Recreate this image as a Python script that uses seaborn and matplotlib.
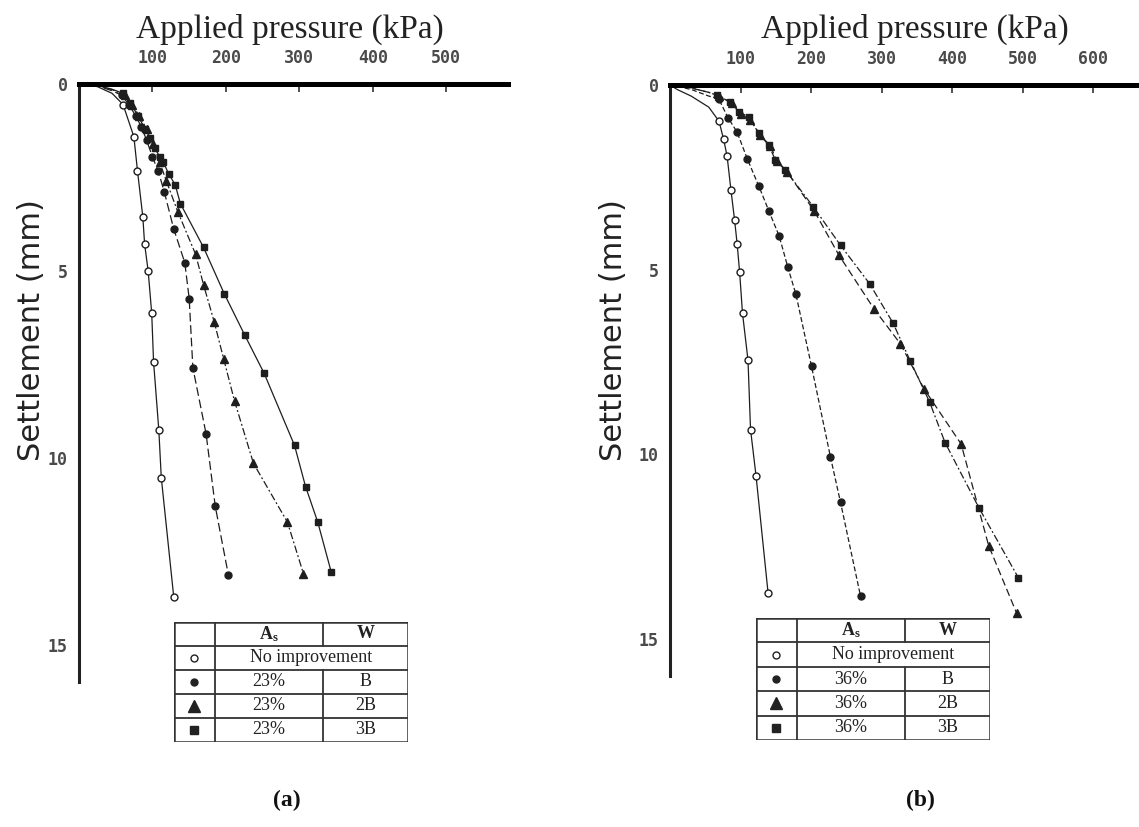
import numpy as np
import pandas as pd
import seaborn as sns
import matplotlib.pyplot as plt

sns.set_theme(style="white")
plt.rcParams["font.family"] = "DejaVu Sans"

# (a) A_s = 23 %  -- first 3 points are the lead-in curve from the origin (no markers)
a_none_p = [0, 25, 45, 60, 74.7, 79.6, 86.9, 89.3, 94.2, 99, 101.5, 108.7, 112, 129]
a_none_s = [0, 0.07, 0.25, 0.55, 1.41, 2.32, 3.56, 4.28, 5.01, 6.14, 7.43, 9.27, 10.53, 13.73]
a_b_p = [0, 25, 45, 58, 68, 77, 85, 92, 100, 108, 116, 129, 144, 150, 155, 173, 185.5, 203.5]
a_b_s = [0, 0.05, 0.18, 0.3, 0.55, 0.85, 1.15, 1.5, 1.95, 2.34, 2.88, 3.88, 4.78, 5.74, 7.59, 9.36, 11.3, 13.15]
a_2b_p = [0, 25, 45, 62, 72, 82, 92, 101, 110, 119, 134.5, 158.8, 169.5, 184, 197, 211.7, 237.5, 283.7, 305.5]
a_2b_s = [0, 0.04, 0.15, 0.3, 0.55, 0.85, 1.2, 1.6, 2.1, 2.6, 3.42, 4.56, 5.37, 6.36, 7.36, 8.48, 10.15, 11.72, 13.1]
a_3b_p = [0, 25, 45, 60, 70, 80, 90, 97, 103, 110, 115, 122, 131, 138, 169.5, 197.7, 225.4, 252, 293.4, 308.4, 325, 343.4]
a_3b_s = [0, 0.04, 0.14, 0.25, 0.5, 0.85, 1.2, 1.45, 1.71, 1.95, 2.1, 2.4, 2.7, 3.2, 4.37, 5.61, 6.71, 7.74, 9.67, 10.77, 11.72, 13.06]

# (b) A_s = 36 %
b_none_p = [0, 10, 30, 55, 69.5, 76, 81, 86.4, 91.6, 95.2, 98.7, 102.8, 110.6, 114.2, 122, 139]
b_none_s = [0, 0.12, 0.3, 0.6, 0.98, 1.47, 1.93, 2.84, 3.66, 4.3, 5.06, 6.18, 7.45, 9.33, 10.58, 13.74]
b_b_p = [0, 30, 55, 69, 82, 95, 109.6, 126, 140.4, 155, 167, 178.6, 200.7, 227.4, 241.8, 270.2]
b_b_s = [0, 0.12, 0.3, 0.37, 0.88, 1.27, 2.0, 2.74, 3.42, 4.1, 4.93, 5.67, 7.62, 10.06, 11.3, 13.84]
b_2b_p = [0, 30, 55, 70, 88, 100, 114, 128, 142, 152, 166, 204.8, 239.3, 289.2, 326.8, 360.3, 412.8, 451.8, 491.5]
b_2b_s = [0, 0.08, 0.2, 0.3, 0.5, 0.78, 0.95, 1.35, 1.65, 2.05, 2.35, 3.42, 4.6, 6.06, 7.01, 8.23, 9.72, 12.47, 14.3]
b_3b_p = [0, 30, 55, 66.7, 85.5, 97.4, 111.6, 125.8, 140, 149.4, 163.5, 203.3, 241.8, 283, 316.4, 340.7, 368, 390, 438.4, 494]
b_3b_s = [0, 0.08, 0.2, 0.28, 0.46, 0.73, 0.86, 1.31, 1.63, 2.03, 2.3, 3.3, 4.34, 5.38, 6.45, 7.47, 8.58, 9.68, 11.46, 13.34]

lead = {"none": 3, "B": 3, "2B": 3, "3B": 3}
b_lead = {"none": 4, "B": 3, "2B": 3, "3B": 3}

rows_a = ["23%", "23%", "23%"]
rows_b = ["36%", "36%", "36%"]
w_rows = ["B", "2B", "3B"]

ink = "#1e1e1e"
grey = "#4a4a4a"

# marker, filled, size, linestyle
look_a = {
    "none": ("o", False, 5, "-"),
    "B": ("o", True, 5, (0, (7, 3))),
    "2B": ("^", True, 6, (0, (6, 2, 1.5, 2))),
    "3B": ("s", True, 5, "-"),
}
look_b = {
    "none": ("o", False, 5, "-"),
    "B": ("o", True, 5, (0, (4, 2))),
    "2B": ("^", True, 6, (0, (6, 3))),
    "3B": ("s", True, 5, (0, (6, 2, 1.5, 2))),
}


def draw_panel(ax, curves, looks, leads, xmax, xticks):
    for key, (p, s) in curves.items():
        m, filled, ms, ls = looks[key]
        df = pd.DataFrame({"p": p, "s": s})
        sns.lineplot(data=df, x="p", y="s", ax=ax, sort=False, estimator=None,
                     color=ink, linewidth=0.9, linestyle=ls, marker=m,
                     markersize=ms, markerfacecolor=ink if filled else "white",
                     markeredgecolor=ink, markeredgewidth=1.0,
                     markevery=slice(leads[key], None), clip_on=False)
    ax.set_xlim(0, xmax)
    ax.set_ylim(16, 0)
    ax.xaxis.tick_top()
    ax.set_xticks(xticks)
    ax.set_yticks([0, 5, 10, 15])
    ax.set_xlabel("")
    ax.set_ylabel("")
    for sp in ["bottom", "right"]:
        ax.spines[sp].set_visible(False)
    ax.spines["top"].set_linewidth(3.6)
    ax.spines["top"].set_color("black")
    ax.spines["left"].set_linewidth(2.2)
    ax.spines["left"].set_color("#222")
    ax.tick_params(axis="both", direction="in", length=6, width=1.2, color="#333",
                   labelcolor=grey)
    ax.tick_params(axis="x", pad=12)
    ax.tick_params(axis="y", pad=8)
    for lab in ax.get_xticklabels() + ax.get_yticklabels():
        lab.set_family("DejaVu Sans Mono")
        lab.set_fontweight("bold")
        lab.set_fontsize(12)
    ax.patch.set_alpha(0)


def draw_table(fig, rect, pcts):
    t = fig.add_axes(rect)
    t.set_xlim(0, 1)
    t.set_ylim(5, 0)
    t.axis("off")
    c1, c2 = 0.175, 0.637
    lw, col = 1.3, "#333"
    t.add_patch(plt.Rectangle((0, 0), 1, 5, fill=True, facecolor="white",
                              edgecolor=col, linewidth=lw + 0.5))
    for r in range(1, 5):
        t.plot([0, 1], [r, r], color=col, lw=lw)
    t.plot([c1, c1], [0, 5], color=col, lw=lw)
    t.plot([c2, c2], [0, 1], color=col, lw=lw)
    t.plot([c2, c2], [2, 5], color=col, lw=lw)
    font = dict(family="Liberation Serif", fontsize=13, color="#222",
                ha="center", va="center")
    t.text((c1 + c2) / 2, 0.5, r"$\mathregular{A_s}$", fontweight="bold", **font)
    t.text((c2 + 1) / 2, 0.5, "W", fontweight="bold", **font)
    t.text((c1 + 1) / 2, 1.5, "No improvement", **font)
    for i, (pc, w) in enumerate(zip(pcts, w_rows)):
        t.text((c1 + c2) / 2, 2.5 + i, pc, **font)
        t.text((c2 + 1) / 2, 2.5 + i, w, **font)
    sym = [("o", False, 5), ("o", True, 5), ("^", True, 9), ("s", True, 6)]
    for i, (m, filled, ms) in enumerate(sym):
        t.plot([c1 / 2], [1.5 + i], marker=m, ms=ms, mec="#222", mew=1,
               mfc="#222" if filled else "white", ls="none")


fig = plt.figure(figsize=(11.39, 8.27), dpi=100)
W, H = 1139, 827

ax1 = fig.add_axes([79 / W, 1 - 682 / H, (508 - 79) / W, (682 - 84) / H])
ax2 = fig.add_axes([670 / W, 1 - 676 / H, (1139 - 670) / W, (676 - 85) / H])

draw_panel(ax1, {"none": (a_none_p, a_none_s), "B": (a_b_p, a_b_s),
                 "2B": (a_2b_p, a_2b_s), "3B": (a_3b_p, a_3b_s)},
           look_a, lead, 584, [100, 200, 300, 400, 500])
draw_panel(ax2, {"none": (b_none_p, b_none_s), "B": (b_b_p, b_b_s),
                 "2B": (b_2b_p, b_2b_s), "3B": (b_3b_p, b_3b_s)},
           look_b, b_lead, 665, [100, 200, 300, 400, 500, 600])

draw_table(fig, [174 / W, 1 - 742 / H, (408 - 174) / W, (742 - 622) / H], rows_a)
draw_table(fig, [756 / W, 1 - 740 / H, (990 - 756) / W, (740 - 618) / H], rows_b)

title_kw = dict(family="Liberation Serif", fontsize=24, color="#222",
                ha="center", va="center")
fig.text(290 / W, 1 - 29 / H, "Applied pressure (kPa)", **title_kw)
fig.text(915 / W, 1 - 29 / H, "Applied pressure (kPa)", **title_kw)

ylab_kw = dict(family="DejaVu Sans", fontsize=22, color="#222", rotation=90,
               ha="center", va="center")
fig.text(32 / W, 1 - 330 / H, "Settlement (mm)", **ylab_kw)
fig.text(614 / W, 1 - 330 / H, "Settlement (mm)", **ylab_kw)

pan_kw = dict(family="Liberation Serif", fontsize=17, fontweight="bold",
              color="#111", ha="center", va="center")
fig.text(287 / W, 1 - 800 / H, "(a)", **pan_kw)
fig.text(920 / W, 1 - 800 / H, "(b)", **pan_kw)

fig.savefig("out.png", dpi=100)
